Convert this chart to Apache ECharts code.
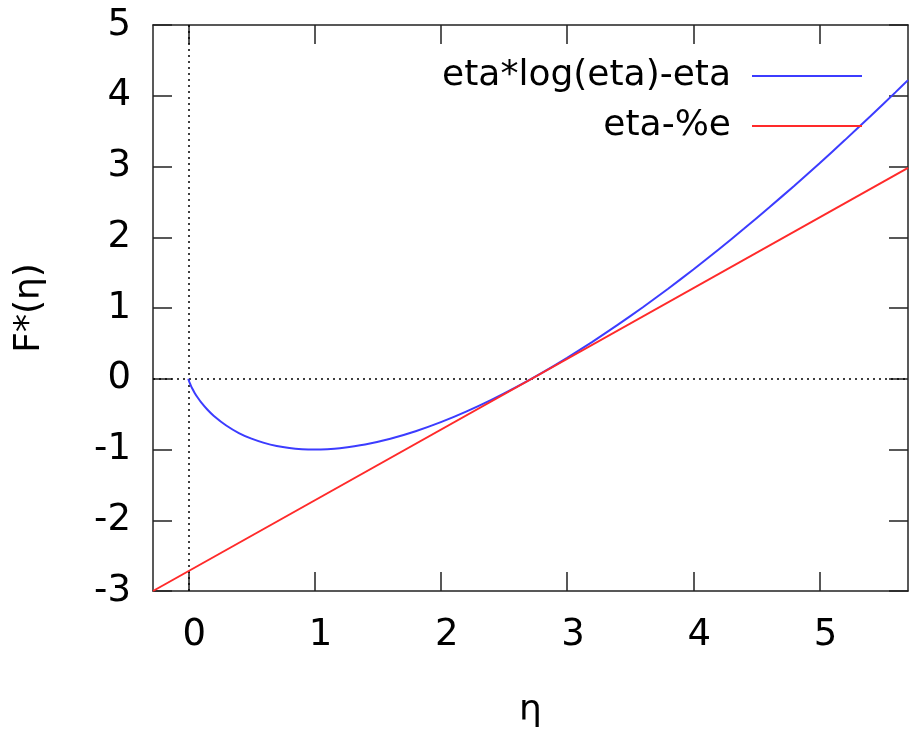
<!DOCTYPE html>
<html>
<head>
<meta charset="utf-8">
<script src="https://cdn.jsdelivr.net/npm/echarts@6/dist/echarts.min.js"></script>
<style>html,body{margin:0;padding:0;background:#fff}#c{width:922px;height:729px}</style>
</head>
<body>
<div id="c"></div>
<script>
// Data
const blueName = 'eta*log(eta)-eta';
const redName = 'eta-%e';
const blueEta = [0, 0.005, 0.01, 0.02, 0.03, 0.05, 0.075, 0.1, 0.15, 0.2, 0.3, 0.4, 0.5, 0.6, 0.7, 0.8, 0.9, 1.0, 1.1, 1.2, 1.4, 1.6, 1.8, 2.0, 2.2, 2.4, 2.6, 2.8, 3.0, 3.2, 3.4, 3.6, 3.8, 4.0, 4.2, 4.4, 4.6, 4.8, 5.0, 5.2, 5.4, 5.6, 5.7];
const blueF = [0, -0.032, -0.056, -0.098, -0.135, -0.200, -0.269, -0.330, -0.435, -0.522, -0.661, -0.767, -0.847, -0.906, -0.950, -0.979, -0.995, -1.0, -0.995, -0.981, -0.929, -0.848, -0.742, -0.614, -0.465, -0.299, -0.116, 0.083, 0.296, 0.522, 0.761, 1.011, 1.273, 1.545, 1.827, 2.119, 2.420, 2.729, 3.047, 3.373, 3.707, 4.048, 4.221];
const redEta = [-0.28, 5.7];
const redF = [-3.0, 2.98];
const xTicks = [0, 1, 2, 3, 4, 5];
const yTicks = [-3, -2, -1, 0, 1, 2, 3, 4, 5];

const FONT = 'DejaVu Sans';
const zip = (a, b) => a.map((v, i) => [v, b[i]]);
const xMin = -0.28, xMax = 5.7, yMin = yTicks[0], yMax = yTicks[yTicks.length - 1];

const tickStyle = {show: true, inside: true, length: 19, lineStyle: {color: '#222', width: 1.5}};
const lineStyleAxis = {show: true, onZero: false, lineStyle: {color: '#222', width: 1.5}};

const chart = echarts.init(document.getElementById('c'));
chart.setOption({
  animation: false,
  backgroundColor: '#fff',
  grid: {left: 153, right: 14, top: 25, bottom: 138, containLabel: false, outerBoundsMode: 'none'},
  legend: [
    {data: [blueName], right: 55, top: 51, orient: 'vertical', align: 'right', icon: 'rect',
     itemWidth: 110, itemHeight: 2,
     textStyle: {fontFamily: FONT, fontSize: 36, color: '#000', lineHeight: 40, padding: [0, 16, 0, 0]}},
    {data: [redName], right: 55, top: 101, orient: 'vertical', align: 'right', icon: 'rect',
     itemWidth: 110, itemHeight: 2,
     textStyle: {fontFamily: FONT, fontSize: 36, color: '#000', lineHeight: 40, padding: [0, 16, 0, 0]}}
  ],
  xAxis: [
    {type: 'value', min: xMin, max: xMax, position: 'bottom',
     name: 'η', nameLocation: 'middle', nameGap: 102,
     nameTextStyle: {fontFamily: FONT, fontSize: 36, color: '#000'},
     axisLine: lineStyleAxis, splitLine: {show: false},
     axisLabel: {fontFamily: FONT, fontSize: 37, color: '#000', margin: 26, padding: [0, 0, 0, 12],
       customValues: xTicks, formatter: v => String(v)},
     axisTick: Object.assign({customValues: xTicks}, tickStyle)},
    {type: 'value', min: xMin, max: xMax, position: 'top',
     axisLine: lineStyleAxis, axisLabel: {show: false}, splitLine: {show: false},
     axisTick: Object.assign({customValues: xTicks}, tickStyle)}
  ],
  yAxis: [
    {type: 'value', min: yMin, max: yMax, interval: 1, position: 'left',
     name: 'F*(η)', nameLocation: 'middle', nameGap: 105,
     nameTextStyle: {fontFamily: FONT, fontSize: 36, color: '#000'},
     axisLine: lineStyleAxis, axisTick: tickStyle, splitLine: {show: false},
     axisLabel: {fontFamily: FONT, fontSize: 37, color: '#000', margin: 22}},
    {type: 'value', min: yMin, max: yMax, interval: 1, position: 'right',
     axisLine: lineStyleAxis, axisTick: tickStyle, axisLabel: {show: false}, splitLine: {show: false}}
  ],
  series: [
    {name: blueName, type: 'line', data: zip(blueEta, blueF), showSymbol: false, smooth: 0.2,
     lineStyle: {color: '#3c3cff', width: 2}, itemStyle: {color: '#3c3cff'}, z: 3,
     markLine: {silent: true, symbol: 'none', label: {show: false},
       lineStyle: {color: '#000', type: [2, 4], width: 1.5},
       data: [{xAxis: 0}, {yAxis: 0}], z: 1}},
    {name: redName, type: 'line', data: zip(redEta, redF), showSymbol: false,
     lineStyle: {color: '#ff2a2a', width: 2}, itemStyle: {color: '#ff2a2a'}, z: 3}
  ]
});
</script>
</body>
</html>
